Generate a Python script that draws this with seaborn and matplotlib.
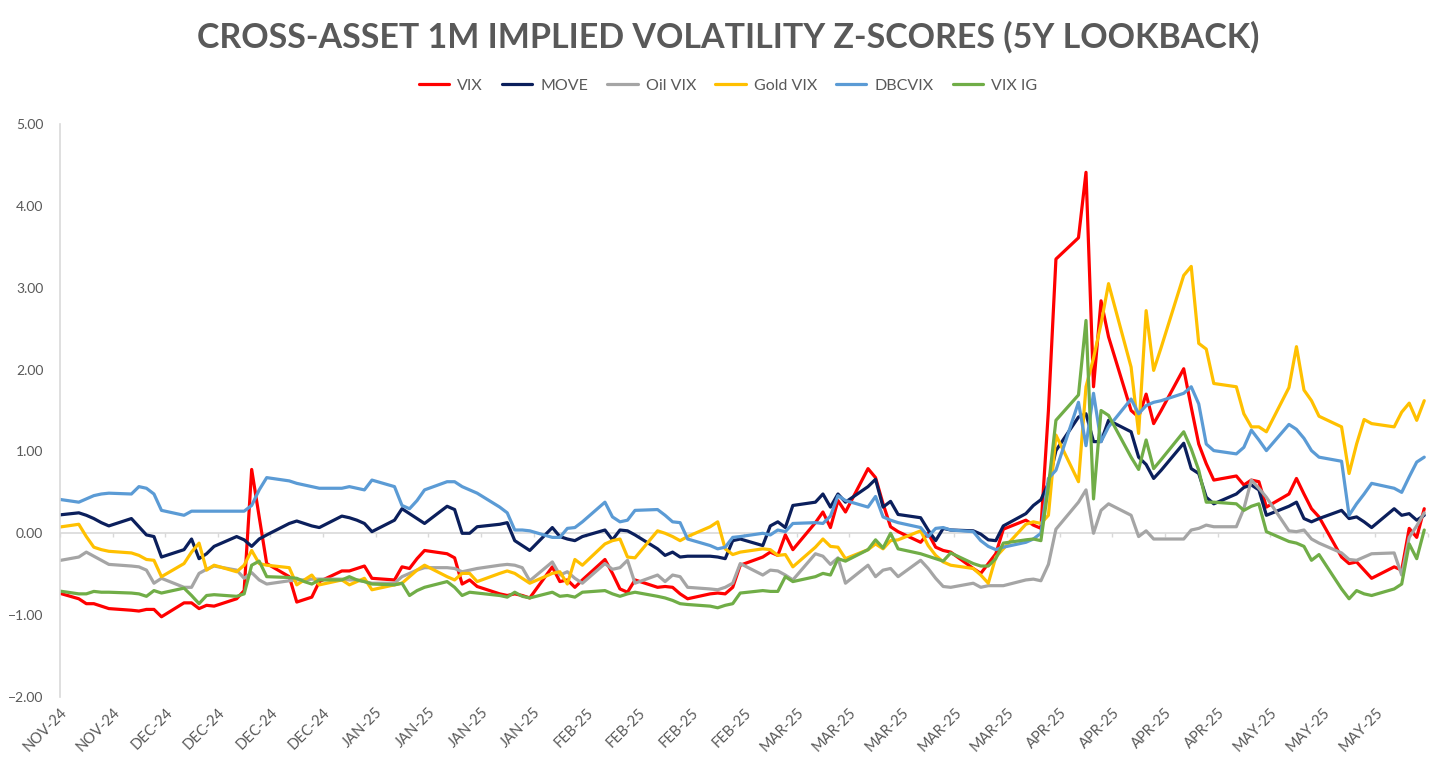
"""
Cross-asset 1M implied volatility z-scores (5y lookback), Nov-24 to May-25.
"""
import pandas as pd
import matplotlib
matplotlib.use("Agg")
import matplotlib.pyplot as plt
import matplotlib.dates as mdates
from matplotlib.lines import Line2D
import seaborn as sns

sns.set_theme(style="white")
plt.rcParams["font.family"] = ["Lato", "DejaVu Sans"]

TEXT_GREY = "#595959"
AXIS_GREY = "#D9D9D9"

# ---------- data (one row per week, Mon..Fri) ----------
dates = pd.DatetimeIndex([pd.Timestamp("2024-11-22")]).append(
    pd.bdate_range("2024-11-25", "2025-05-23"))

vix = [
    -0.72,
    -0.80, -0.86, -0.86, -0.89, -0.92,
    -0.94, -0.95, -0.93, -0.93, -1.02,
    -0.85, -0.85, -0.92, -0.88, -0.89,
    -0.80, -0.70, 0.78, 0.20, -0.37,
    -0.53, -0.84, -0.81, -0.78, -0.59,
    -0.46, -0.46, -0.43, -0.40, -0.55,
    -0.57, -0.41, -0.43, -0.31, -0.21,
    -0.25, -0.30, -0.62, -0.57, -0.65,
    -0.74, -0.76, -0.74, -0.76, -0.79,
    -0.41, -0.59, -0.57, -0.66, -0.57,
    -0.32, -0.49, -0.68, -0.72, -0.57,
    -0.66, -0.65, -0.66, -0.74, -0.80,
    -0.74, -0.73, -0.74, -0.66, -0.39,
    -0.29, -0.23, -0.27, -0.02, -0.20,
    0.13, 0.26, 0.07, 0.40, 0.26,
    0.79, 0.68, 0.36, 0.08, 0.02,
    -0.11, 0.00, -0.17, -0.21, -0.23,
    -0.43, -0.49, -0.37, -0.25, 0.05,
    0.16, 0.10, 0.06, 1.50, 3.35,
    3.61, 4.41, 1.79, 2.84, 2.40,
    1.50, 1.42, 1.70, 1.34, 1.50,
    2.01, 1.54, 1.09, 0.85, 0.65,
    0.70, 0.59, 0.65, 0.63, 0.32,
    0.48, 0.67, 0.48, 0.30, 0.20,
    -0.29, -0.37, -0.35, -0.45, -0.55,
    -0.41, -0.45, 0.06, -0.05, 0.30,
]

move = [
    0.22,
    0.25, 0.22, 0.18, 0.13, 0.09,
    0.18, 0.08, -0.02, -0.04, -0.29,
    -0.20, -0.07, -0.31, -0.25, -0.16,
    -0.04, -0.08, -0.16, -0.07, -0.02,
    0.12, 0.15, 0.12, 0.09, 0.07,
    0.21, 0.19, 0.16, 0.12, 0.02,
    0.16, 0.30, 0.24, 0.18, 0.12,
    0.33, 0.29, 0.00, 0.00, 0.08,
    0.11, 0.13, -0.09, -0.15, -0.21,
    0.07, -0.04, -0.07, -0.09, -0.04,
    0.04, -0.08, 0.04, 0.03, -0.02,
    -0.19, -0.27, -0.23, -0.29, -0.28,
    -0.28, -0.29, -0.31, -0.09, -0.07,
    -0.15, 0.09, 0.14, 0.07, 0.34,
    0.38, 0.48, 0.32, 0.48, 0.38,
    0.57, 0.66, 0.32, 0.39, 0.23,
    0.19, 0.04, -0.09, 0.06, 0.04,
    0.03, -0.01, -0.08, -0.09, 0.09,
    0.24, 0.34, 0.41, 0.61, 1.01,
    1.42, 1.46, 1.12, 1.12, 1.38,
    1.24, 0.93, 0.84, 0.67, 0.77,
    1.10, 0.79, 0.73, 0.44, 0.36,
    0.48, 0.56, 0.59, 0.53, 0.22,
    0.33, 0.38, 0.18, 0.14, 0.18,
    0.28, 0.18, 0.20, 0.14, 0.07,
    0.30, 0.22, 0.24, 0.16, 0.22,
]

oil_vix = [
    -0.34,
    -0.29, -0.23, -0.28, -0.33, -0.38,
    -0.40, -0.41, -0.45, -0.61, -0.55,
    -0.66, -0.66, -0.49, -0.44, -0.40,
    -0.45, -0.55, -0.48, -0.57, -0.62,
    -0.58, -0.57, -0.57, -0.56, -0.56,
    -0.56, -0.57, -0.57, -0.59, -0.61,
    -0.61, -0.53, -0.49, -0.45, -0.42,
    -0.42, -0.43, -0.47, -0.45, -0.43,
    -0.39, -0.38, -0.39, -0.42, -0.58,
    -0.35, -0.51, -0.47, -0.55, -0.61,
    -0.37, -0.44, -0.42, -0.33, -0.61,
    -0.51, -0.59, -0.51, -0.53, -0.66,
    -0.68, -0.69, -0.66, -0.61, -0.37,
    -0.51, -0.45, -0.46, -0.51, -0.57,
    -0.25, -0.28, -0.38, -0.30, -0.61,
    -0.39, -0.53, -0.45, -0.43, -0.53,
    -0.33, -0.43, -0.55, -0.65, -0.66,
    -0.61, -0.66, -0.64, -0.64, -0.64,
    -0.57, -0.56, -0.58, -0.38, 0.05,
    0.38, 0.53, 0.00, 0.28, 0.36,
    0.22, -0.04, 0.03, -0.07, -0.07,
    -0.07, 0.04, 0.06, 0.10, 0.08,
    0.08, 0.30, 0.65, 0.55, 0.44,
    0.03, 0.02, 0.04, -0.07, -0.12,
    -0.24, -0.32, -0.33, -0.29, -0.25,
    -0.24, -0.51, -0.05, 0.09, 0.25,
]

gold_vix = [
    0.07,
    0.11, -0.04, -0.17, -0.20, -0.22,
    -0.24, -0.27, -0.32, -0.33, -0.53,
    -0.37, -0.23, -0.12, -0.45, -0.39,
    -0.47, -0.39, -0.21, -0.37, -0.39,
    -0.42, -0.63, -0.57, -0.51, -0.63,
    -0.57, -0.63, -0.59, -0.55, -0.69,
    -0.63, -0.61, -0.53, -0.45, -0.39,
    -0.53, -0.57, -0.49, -0.49, -0.59,
    -0.49, -0.46, -0.49, -0.55, -0.61,
    -0.49, -0.47, -0.62, -0.32, -0.39,
    -0.13, -0.09, -0.07, -0.29, -0.30,
    0.03, 0.00, -0.04, -0.09, -0.04,
    0.08, 0.14, -0.19, -0.26, -0.23,
    -0.19, -0.20, -0.27, -0.26, -0.41,
    -0.17, -0.07, -0.16, -0.17, -0.31,
    -0.20, -0.13, -0.19, -0.09, -0.08,
    0.03, -0.15, -0.27, -0.35, -0.39,
    -0.43, -0.51, -0.61, -0.29, -0.19,
    0.11, 0.14, 0.12, 0.22, 1.20,
    0.63, 1.79, 2.14, 2.56, 3.05,
    2.03, 1.22, 2.72, 1.99, 2.27,
    3.15, 3.26, 2.32, 2.25, 1.83,
    1.79, 1.46, 1.30, 1.30, 1.24,
    1.78, 2.28, 1.75, 1.62, 1.43,
    1.30, 0.73, 1.09, 1.39, 1.34,
    1.30, 1.48, 1.59, 1.38, 1.62,
]

dbcvix = [
    0.42,
    0.38, 0.42, 0.46, 0.48, 0.49,
    0.48, 0.57, 0.55, 0.48, 0.28,
    0.22, 0.27, 0.27, 0.27, 0.27,
    0.27, 0.27, 0.34, 0.53, 0.68,
    0.64, 0.61, 0.59, 0.57, 0.55,
    0.55, 0.57, 0.55, 0.53, 0.65,
    0.57, 0.34, 0.30, 0.40, 0.53,
    0.63, 0.63, 0.57, 0.53, 0.49,
    0.32, 0.25, 0.04, 0.04, 0.03,
    -0.05, -0.05, 0.06, 0.07, 0.14,
    0.38, 0.20, 0.14, 0.16, 0.28,
    0.29, 0.22, 0.14, 0.13, -0.07,
    -0.15, -0.19, -0.17, -0.05, -0.04,
    0.00, -0.02, 0.04, 0.02, 0.12,
    0.13, 0.12, 0.21, 0.46, 0.40,
    0.32, 0.45, 0.20, 0.16, 0.13,
    0.07, -0.04, 0.06, 0.07, 0.04,
    0.02, -0.09, -0.16, -0.20, -0.17,
    -0.11, -0.07, 0.00, 0.67, 0.77,
    1.60, 1.07, 1.71, 1.12, 1.30,
    1.64, 1.46, 1.56, 1.60, 1.62,
    1.71, 1.79, 1.58, 1.09, 1.01,
    0.97, 1.05, 1.26, 1.14, 1.01,
    1.33, 1.27, 1.16, 1.01, 0.93,
    0.88, 0.22, 0.36, 0.48, 0.61,
    0.55, 0.50, 0.69, 0.87, 0.93,
]

vix_ig = [
    -0.70,
    -0.74, -0.74, -0.71, -0.72, -0.72,
    -0.73, -0.74, -0.77, -0.70, -0.73,
    -0.67, -0.76, -0.86, -0.76, -0.75,
    -0.77, -0.74, -0.39, -0.34, -0.53,
    -0.54, -0.55, -0.59, -0.62, -0.57,
    -0.57, -0.53, -0.57, -0.59, -0.62,
    -0.63, -0.61, -0.76, -0.70, -0.66,
    -0.59, -0.66, -0.76, -0.72, -0.73,
    -0.76, -0.78, -0.72, -0.77, -0.79,
    -0.72, -0.77, -0.76, -0.78, -0.72,
    -0.70, -0.74, -0.77, -0.74, -0.72,
    -0.77, -0.79, -0.82, -0.86, -0.87,
    -0.89, -0.91, -0.88, -0.86, -0.73,
    -0.70, -0.71, -0.71, -0.53, -0.59,
    -0.53, -0.49, -0.51, -0.31, -0.34,
    -0.20, -0.08, -0.18, 0.00, -0.19,
    -0.25, -0.28, -0.31, -0.34, -0.24,
    -0.37, -0.40, -0.40, -0.31, -0.12,
    -0.08, -0.07, -0.09, 0.57, 1.38,
    1.69, 2.60, 0.42, 1.50, 1.44,
    0.93, 0.78, 1.14, 0.79, 0.90,
    1.24, 1.03, 0.77, 0.38, 0.38,
    0.36, 0.28, 0.33, 0.36, 0.02,
    -0.10, -0.12, -0.16, -0.33, -0.26,
    -0.68, -0.80, -0.70, -0.74, -0.76,
    -0.68, -0.62, -0.13, -0.31, 0.04,
]

series_names = ["VIX", "MOVE", "Oil VIX", "Gold VIX", "DBCVIX", "VIX IG"]
series_values = [vix, move, oil_vix, gold_vix, dbcvix, vix_ig]
series_colors = ["#FF0000", "#0B1F5C", "#A5A5A5", "#FFC000", "#5B9BD5", "#70AD47"]

tick_labels = ["NOV-24", "NOV-24", "DEC-24", "DEC-24", "DEC-24", "DEC-24",
               "JAN-25", "JAN-25", "JAN-25", "JAN-25",
               "FEB-25", "FEB-25", "FEB-25", "FEB-25",
               "MAR-25", "MAR-25", "MAR-25", "MAR-25", "MAR-25",
               "APR-25", "APR-25", "APR-25", "APR-25",
               "MAY-25", "MAY-25", "MAY-25"]

# long format; each trading day sits in the middle of its day slot (Excel date axis)
df = pd.concat([pd.DataFrame({"date": dates + pd.Timedelta(hours=12), "z": vals, "series": name})
                for name, vals in zip(series_names, series_values)], ignore_index=True)
palette = dict(zip(series_names, series_colors))

# ---------- chart ----------
fig = plt.figure(figsize=(14.56, 7.72), dpi=100)
ax = fig.add_axes([60 / 1456, 1 - 697 / 772, (1428 - 60) / 1456, (697 - 124) / 772])

sns.lineplot(data=df, x="date", y="z", hue="series", hue_order=series_names,
             palette=palette, linewidth=2.3, legend=False, ax=ax)

ax.set_ylim(-2, 5)
ax.set_yticks(range(-2, 6))
ax.yaxis.set_major_formatter("{x:.2f}")
x0, x1 = pd.Timestamp("2024-11-23"), pd.Timestamp("2025-05-24")
ax.set_xlim(x0, x1)
tick_dates = pd.date_range(x0, x1, freq="7D")
ax.set_xticks(tick_dates, labels=tick_labels + [""] * (len(tick_dates) - len(tick_labels)))
for lbl in ax.get_xticklabels():
    lbl.set_rotation(45)
    lbl.set_ha("right")
    lbl.set_va("top")
    lbl.set_rotation_mode("anchor")

ax.tick_params(axis="x", length=0, pad=6, labelsize=10.5, labelcolor=TEXT_GREY)
ax.tick_params(axis="y", length=0, pad=12, labelsize=10, labelcolor=TEXT_GREY)
ax.set_xlabel("")
ax.set_ylabel("")
for side in ["top", "right", "bottom"]:
    ax.spines[side].set_visible(False)
ax.spines["left"].set_color(AXIS_GREY)
ax.spines["left"].set_linewidth(1.2)

# horizontal axis line crosses at zero, with small tick marks
ax.axhline(0, color=AXIS_GREY, linewidth=1.2, zorder=0)
sec = ax.secondary_xaxis(2 / 7)
sec.set_xticks(mdates.date2num(tick_dates))
sec.set_xticklabels([])
sec.tick_params(length=3, color=AXIS_GREY, width=1)
for sp in sec.spines.values():
    sp.set_visible(False)

fig.text(0.5, 1 - 37 / 772, "CROSS-ASSET 1M IMPLIED VOLATILITY Z-SCORES (5Y LOOKBACK)",
         ha="center", va="center", fontsize=24.5, fontweight="bold", color=TEXT_GREY)

handles = [Line2D([], [], color=c, linewidth=2.3) for c in series_colors]
fig.legend(handles, series_names, loc="center", bbox_to_anchor=(0.5, 1 - 86 / 772),
           ncol=6, frameon=False, fontsize=11.5, handlelength=1.9, handletextpad=0.5,
           columnspacing=1.2, labelcolor=TEXT_GREY)

fig.savefig("out.png", dpi=100)
